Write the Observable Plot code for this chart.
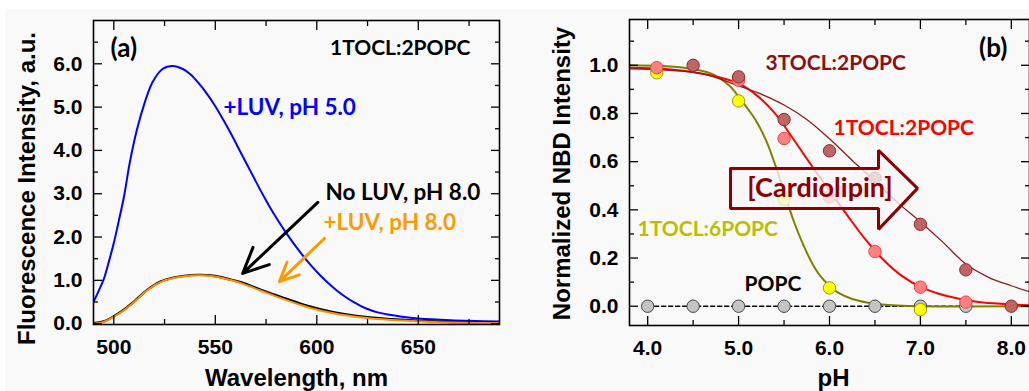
<!DOCTYPE html>
<html><head><meta charset="utf-8">
<script src="https://cdn.jsdelivr.net/npm/d3@7"></script>
<script src="https://cdn.jsdelivr.net/npm/@observablehq/plot@0.6"></script>
<style>
html,body{margin:0;padding:0;background:#fff;}
#wrap{position:relative;width:1029px;height:391px;overflow:hidden;background:#fff;}
#bg{position:absolute;left:5px;top:9px;right:0;bottom:0;background:#f9f9f9;}
#a{position:absolute;left:0;top:0;}
#b{position:absolute;left:500px;top:0;}
</style></head><body>
<div id="wrap"><div id="bg"></div><div id="a"></div><div id="b"></div></div>
<script>
// ---------- Panel (a): fluorescence spectra [wavelength nm, intensity a.u.] ----------
const spectrumLuvPH5 = [[490,0.5],[492.5,0.75],[495,1.02],[497.5,1.42],[500,1.86],[502.5,2.38],[505,2.93],[508,3.75],[511.5,4.5],[515,5.07],[519,5.57],[524,5.88],[529,5.95],[534,5.88],[538,5.75],[542,5.54],[546,5.3],[550,5.02],[554,4.7],[558,4.36],[562,4.0],[566,3.64],[570,3.28],[574,2.93],[578,2.6],[582,2.3],[586,2.02],[590,1.76],[594,1.52],[598,1.3],[602,1.1],[606,0.92],[610,0.76],[614,0.62],[618,0.5],[622,0.4],[626,0.32],[630,0.26],[635,0.21],[642,0.16],[650,0.12],[666,0.08],[690,0.05]];
const spectrumNoLuvPH8 = [[490,0.01],[495,0.05],[500,0.17],[505,0.32],[510,0.51],[516.5,0.78],[523,0.97],[530,1.07],[538,1.12],[543,1.125],[548,1.11],[553,1.07],[558,1.01],[563,0.95],[572.5,0.78],[584,0.59],[595.5,0.41],[608.7,0.26],[625,0.15],[642,0.09],[658,0.05],[690,0.03]];
const spectrumLuvPH8 = [[490,0.0],[495,0.04],[500,0.16],[505,0.31],[510,0.5],[516.5,0.77],[523,0.96],[530,1.06],[538,1.11],[543,1.115],[548,1.1],[553,1.06],[558,1.0],[563,0.93],[572.5,0.76],[584,0.56],[595.5,0.38],[608.7,0.235],[625,0.13],[642,0.07],[658,0.04],[690,0.015]];
const aXTicks = [500, 550, 600, 650];
const aXMinor = [525, 575, 625, 675];
const aYTicks = [0, 1, 2, 3, 4, 5, 6];
const aYMinor = [0.5, 1.5, 2.5, 3.5, 4.5, 5.5, 6.5];
const aLabels = [
  {x: 498.4, y: 6.36, text: "(a)", color: "#000", anchor: "start", size: 26},
  {x: 675.7, y: 6.36, text: "1TOCL:2POPC", color: "#000", anchor: "end", size: 21},
  {x: 554, y: 4.98, text: "+LUV, pH 5.0", color: "#0000ff", anchor: "start", size: 22.5},
  {x: 604.3, y: 3.01, text: "No LUV, pH 8.0", color: "#000", anchor: "start", size: 22.5},
  {x: 603.3, y: 2.32, text: "+LUV, pH 8.0", color: "#ff9900", anchor: "start", size: 22.5}
];
const aArrows = [
  {x1: 600.5, y1: 2.8, x2: 563.5, y2: 1.16, color: "#000"},
  {x1: 603.8, y1: 1.97, x2: 581.6, y2: 0.97, color: "#ff9900"}
];

// ---------- Panel (b): normalized NBD intensity vs pH ----------
const popcPH = [4.0, 4.5, 5.0, 5.5, 6.0, 6.5, 7.0, 7.5];
const popcI  = [0, 0, 0, 0, 0, 0, 0, 0];
const tocl16PH = [4.1, 5.0, 5.5, 6.0, 7.0];
const tocl16I  = [0.969, 0.852, 0.444, 0.076, -0.014];
const tocl12PH = [4.1, 5.0, 5.5, 6.0, 6.5, 7.0, 7.5];
const tocl12I  = [0.99, 0.938, 0.696, 0.453, 0.227, 0.079, 0.017];
const tocl32PH = [4.5, 5.0, 5.5, 6.0, 6.5, 7.0, 7.5, 8.0];
const tocl32I  = [1.0, 0.952, 0.775, 0.645, 0.532, 0.34, 0.151, 0.0];
// fitted curves [pH, intensity]
const fit16 = [[3.8,1.0],[4.4,0.99],[4.7,0.965],[4.9,0.915],[5.0,0.87],[5.1,0.82],[5.2,0.765],[5.3,0.69],[5.4,0.59],[5.5,0.475],[5.6,0.36],[5.7,0.265],[5.8,0.185],[5.9,0.125],[6.0,0.085],[6.1,0.055],[6.25,0.03],[6.5,0.01],[6.75,0.003],[7.0,0.0],[8.2,0.0]];
const fit12 = [[3.8,0.99],[4.2,0.985],[4.6,0.965],[5.0,0.925],[5.2,0.875],[5.4,0.8],[5.6,0.695],[5.8,0.585],[6.0,0.48],[6.2,0.375],[6.4,0.275],[6.6,0.19],[6.8,0.125],[7.0,0.08],[7.2,0.052],[7.4,0.033],[7.6,0.02],[7.8,0.012],[8.0,0.007],[8.2,0.004]];
const fit32 = [[3.8,0.985],[4.2,0.98],[4.6,0.965],[5.0,0.915],[5.25,0.88],[5.5,0.835],[5.75,0.775],[6.0,0.695],[6.25,0.605],[6.5,0.52],[6.75,0.43],[7.0,0.35],[7.25,0.265],[7.5,0.175],[7.75,0.12],[8.0,0.085],[8.2,0.06]];
const bXTicks = [4, 5, 6, 7, 8];
const bXMinor = [4.5, 5.5, 6.5, 7.5];
const bYTicks = [0, 0.2, 0.4, 0.6, 0.8, 1.0];
const bYMinor = [0.1, 0.3, 0.5, 0.7, 0.9, 1.1];
const bLabels = [
  {x: 7.80, y: 1.07, text: "(b)", color: "#000", anchor: "middle", size: 26},
  {x: 5.296, y: 1.008, text: "3TOCL:2POPC", color: "#8b1010", anchor: "start", size: 21},
  {x: 6.044, y: 0.738, text: "1TOCL:2POPC", color: "#ff0000", anchor: "start", size: 21},
  {x: 3.888, y: 0.319, text: "1TOCL:6POPC", color: "#bdbd00", anchor: "start", size: 21},
  {x: 5.065, y: 0.09, text: "POPC", color: "#000", anchor: "start", size: 21}
];
const blockArrow = [[4.911,0.572],[6.539,0.572],[6.539,0.647],[6.968,0.489],[6.539,0.319],[6.539,0.406],[4.911,0.406],[4.911,0.572]];
const arrowText = [{x: 5.896, y: 0.489, text: "[Cardiolipin]"}];

const zip = (xs, ys) => xs.map((x, i) => [x, ys[i]]);
const tickFont = {fontFamily: "'Liberation Sans', Arial, sans-serif", fontWeight: "bold", fontSize: 21};
const annFont = "Lato, 'Open Sans', sans-serif";
const titleFont = {fontFamily: "'Liberation Sans', Arial, sans-serif", fontWeight: "bold", fontSize: 24};

function frameAxes(xMaj, xMin, yMaj, yMin, xFmt, yFmt) {
  return [
    Plot.axisX(xMaj, {anchor: "bottom", tickSize: 0, tickPadding: 15, tickFormat: xFmt, label: null, ...tickFont}),
    Plot.axisY(yMaj, {anchor: "left", tickSize: 0, tickPadding: 11, tickFormat: yFmt, label: null, ...tickFont}),
    Plot.axisX(xMaj, {anchor: "bottom", tickSize: -9, fill: "none", label: null, strokeWidth: 1.3}),
    Plot.axisX(xMaj, {anchor: "top", tickSize: -9, fill: "none", label: null, strokeWidth: 1.3}),
    Plot.axisX(xMin, {anchor: "bottom", tickSize: -5, fill: "none", label: null, strokeWidth: 1.3}),
    Plot.axisX(xMin, {anchor: "top", tickSize: -5, fill: "none", label: null, strokeWidth: 1.3}),
    Plot.axisY(yMaj, {anchor: "left", tickSize: -9, fill: "none", label: null, strokeWidth: 1.3}),
    Plot.axisY(yMaj, {anchor: "right", tickSize: -9, fill: "none", label: null, strokeWidth: 1.3}),
    Plot.axisY(yMin, {anchor: "left", tickSize: -5, fill: "none", label: null, strokeWidth: 1.3}),
    Plot.axisY(yMin, {anchor: "right", tickSize: -5, fill: "none", label: null, strokeWidth: 1.3}),
    Plot.frame({stroke: "#000", strokeWidth: 1.6})
  ];
}
function labelMarks(labels) {
  return labels.map(l => Plot.text([l], {x: "x", y: "y", text: "text", fill: l.color, textAnchor: l.anchor,
    lineAnchor: "middle", fontFamily: annFont, fontWeight: "bold", fontSize: l.size}));
}

const plotA = Plot.plot({
  width: 500, height: 391,
  marginLeft: 93, marginRight: 1, marginTop: 20, marginBottom: 67,
  style: {background: "transparent", color: "#000", overflow: "visible"},
  x: {domain: [490, 690]},
  y: {domain: [-0.02, 7.0]},
  marks: [
    Plot.line(spectrumLuvPH5, {x: d => d[0], y: d => d[1], stroke: "#0000ff", strokeWidth: 2, curve: "catmull-rom", clip: true}),
    Plot.line(spectrumNoLuvPH8, {x: d => d[0], y: d => d[1], stroke: "#000", strokeWidth: 2.4, curve: "catmull-rom", clip: true}),
    Plot.line(spectrumLuvPH8, {x: d => d[0], y: d => d[1], stroke: "#ff8c00", strokeWidth: 2, curve: "catmull-rom", clip: true}),
    Plot.arrow(aArrows, {x1: "x1", y1: "y1", x2: "x2", y2: "y2", stroke: d => d.color, strokeWidth: 3, headLength: 14, headAngle: 50}),
    ...labelMarks(aLabels),
    ...frameAxes(aXTicks, aXMinor, aYTicks, aYMinor, d => String(d), d => d.toFixed(1)),
    Plot.text(["Fluorescence Intensity, a.u."], {text: d => d, frameAnchor: "left", textAnchor: "middle", dx: -66, dy: 16, rotate: -90, lineAnchor: "middle", ...titleFont}),
    Plot.text(["Wavelength, nm"], {text: d => d, frameAnchor: "bottom", textAnchor: "middle", dy: 54, lineAnchor: "middle", ...titleFont})
  ]
});
document.getElementById("a").appendChild(plotA);

const plotB = Plot.plot({
  width: 529, height: 391,
  marginLeft: 129, marginRight: 0, marginTop: 19, marginBottom: 66,
  style: {background: "transparent", color: "#000", overflow: "visible"},
  x: {domain: [3.8, 8.2]},
  y: {domain: [-0.08, 1.19]},
  marks: [
    Plot.line(zip(popcPH, popcI), {x: d => d[0], y: d => d[1], stroke: "#000", strokeWidth: 1.6, strokeDasharray: "4,3", clip: true}),
    Plot.line(fit16, {x: d => d[0], y: d => d[1], stroke: "#808000", strokeWidth: 2, curve: "catmull-rom", clip: true}),
    Plot.line(fit12, {x: d => d[0], y: d => d[1], stroke: "#ff0000", strokeWidth: 2, curve: "catmull-rom", clip: true}),
    Plot.line(fit32, {x: d => d[0], y: d => d[1], stroke: "#8b1a1a", strokeWidth: 1.3, curve: "catmull-rom", clip: true}),
    Plot.dot(zip(popcPH, popcI), {x: d => d[0], y: d => d[1], r: 6.2, fill: "#c4c4c4", stroke: "#444", strokeWidth: 1}),
    Plot.dot(zip(tocl16PH, tocl16I), {x: d => d[0], y: d => d[1], r: 6.2, fill: "#ffff00", stroke: "#9a9a00", strokeWidth: 1}),
    Plot.dot(zip(tocl12PH, tocl12I), {x: d => d[0], y: d => d[1], r: 6.2, fill: "#ff8080", stroke: "#f04040", strokeWidth: 1}),
    Plot.dot(zip(tocl32PH, tocl32I), {x: d => d[0], y: d => d[1], r: 6.2, fill: "#c06464", stroke: "#8b2a2a", strokeWidth: 1}),
    Plot.line(blockArrow, {x: d => d[0], y: d => d[1], fill: "#f6f6f6", fillOpacity: 0.78, stroke: "#8b0000", strokeWidth: 3, strokeLinejoin: "miter"}),
    Plot.text(arrowText, {x: "x", y: "y", text: "text", fill: "#8b0000", lineAnchor: "middle", fontFamily: annFont, fontWeight: "bold", fontSize: 27}),
    ...labelMarks(bLabels),
    ...frameAxes(bXTicks, bXMinor, bYTicks, bYMinor, d => d.toFixed(1), d => d.toFixed(1)),
    Plot.text(["Normalized NBD Intensity"], {text: d => d, frameAnchor: "left", textAnchor: "middle", dx: -67, dy: 1, rotate: -90, lineAnchor: "middle", ...titleFont}),
    Plot.text(["pH"], {text: d => d, frameAnchor: "bottom", textAnchor: "middle", dx: 4, dy: 53, lineAnchor: "middle", ...titleFont})
  ]
});
document.getElementById("b").appendChild(plotB);
</script>
</body></html>
